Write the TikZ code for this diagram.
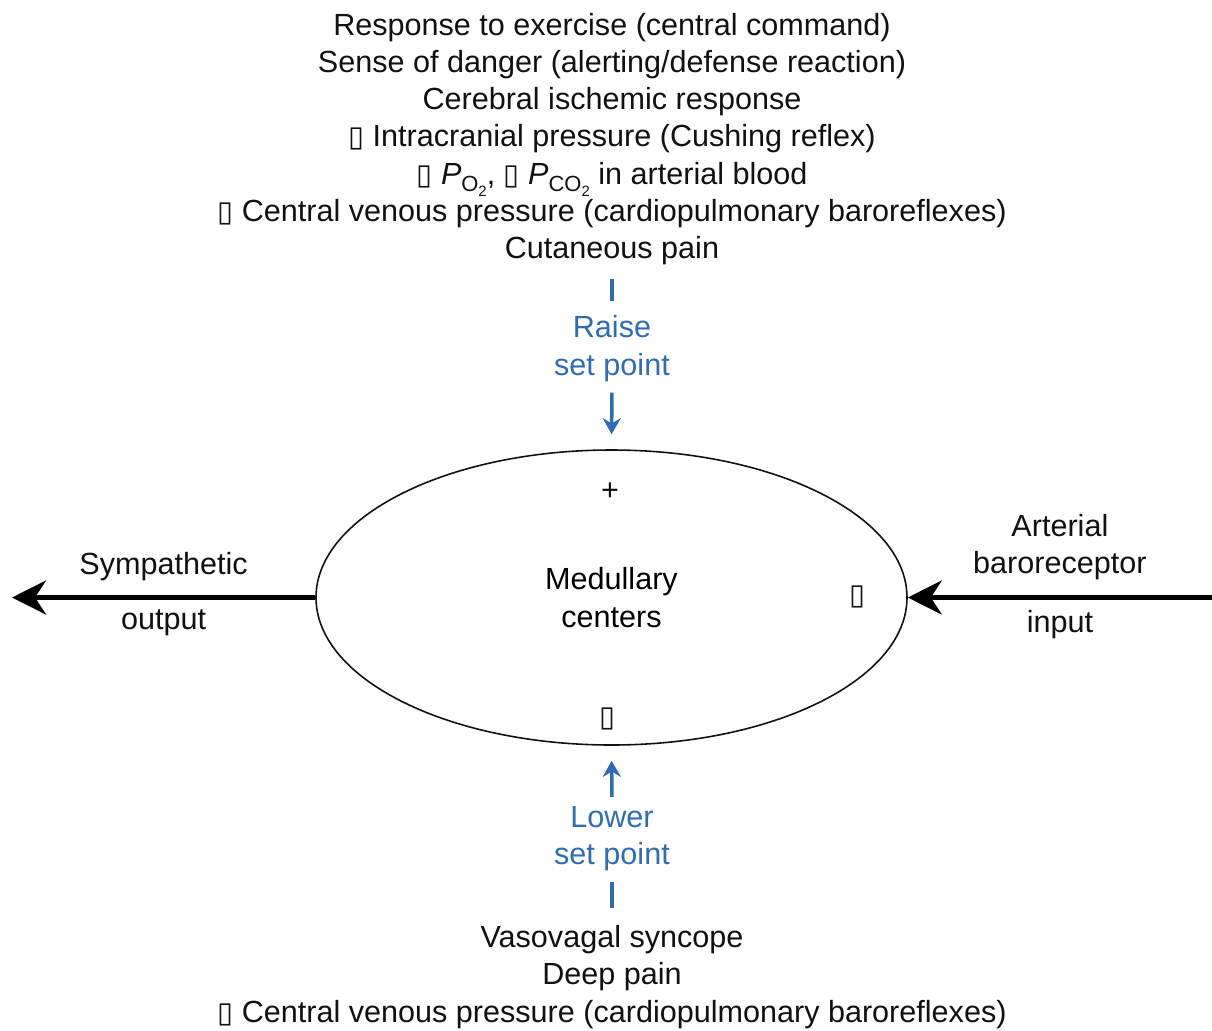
\documentclass[tikz,border=0pt]{standalone}
\usepackage{fontspec}
\setmainfont{Liberation Sans}
\newfontfamily\boxfont{DejaVu Sans}
\usetikzlibrary{positioning,arrows.meta,shapes.geometric}
\definecolor{setblue}{HTML}{2E6DB4}
\definecolor{edgecol}{HTML}{111111}
\newcommand{\bx}{{\boxfont\fontsize{16.5pt}{16.5pt}\selectfont ▯}}
\newcommand{\pgas}[1]{\textit{P}\raisebox{-0.45ex}{\fontsize{12.5pt}{12.5pt}\selectfont #1}}
\newcommand{\two}{\raisebox{-0.4ex}{\fontsize{8.5pt}{8.5pt}\selectfont 2}}

\begin{document}
\begin{tikzpicture}[
  font=\fontsize{17.4pt}{21.2pt}\selectfont,
  txt/.style={align=center, text=edgecol, inner sep=0pt},
  setlbl/.style={txt, text=setblue},
  centre/.style={draw=edgecol, ellipse, line width=0.9pt, minimum width=11.82cm,
                 minimum height=5.9cm, align=center, inner sep=0pt},
  bigarr/.style={-{Stealth[length=6.8mm, width=6.8mm, inset=2.2mm]}, line width=2.8pt, draw=black},
  setarr/.style={-{Stealth[length=3.2mm, width=3.6mm]}, line width=2pt, draw=setblue},
  setbar/.style={line width=2pt, draw=setblue},
]
\useasboundingbox (0,0) rectangle (24.24,-20.6);

% ─── medullary centers (middle) ────────────────────────────────────────────
\node[centre] (med) at (12.23,-11.95) {Medullary\\centers};
\node[txt] (plus) at (12.2,-9.84) {+};
\node[txt] (minusr) at (17.14,-11.94) {\bx};
\node[txt] (minusb) at (12.14,-14.38) {\bx};

% ─── raise set point (top) ─────────────────────────────────────────────────
\node[txt] (raisers) at (12.24,-2.78)
  {Response to exercise (central command)\\
   Sense of danger (alerting/defense reaction)\\
   Cerebral ischemic response\\
   \bx{} Intracranial pressure (Cushing reflex)\\
   \bx{} \pgas{O\two}, \bx{} \pgas{CO\two} in arterial blood\\
   \bx{} Central venous pressure (cardiopulmonary baroreflexes)\\
   Cutaneous pain};
\node[setlbl] (raise) at (12.24,-6.97) {Raise\\set point};
\draw[setbar, shorten <=0.28cm, shorten >=0.28cm] (raisers.south) -- (raise.north);
\draw[setarr, shorten <=0.22cm, shorten >=0.3cm] (raise.south) -- (med.north);

% ─── lower set point (bottom) ──────────────────────────────────────────────
\node[setlbl] (lower) at (12.24,-16.77) {Lower\\set point};
\node[txt] (lowerers) at (12.24,-19.54)
  {Vasovagal syncope\\
   Deep pain\\
   \bx{} Central venous pressure (cardiopulmonary baroreflexes)};
\draw[setarr, shorten <=0.18cm, shorten >=0.3cm] (lower.north) -- (med.south);
\draw[setbar, shorten <=0.22cm, shorten >=0.34cm] (lower.south) -- (lowerers.north);

% ─── sympathetic output / baroreceptor input ───────────────────────────────
\coordinate (outtip) at (0.24,-11.95);
\coordinate (intail) at (24.24,-11.95);
\draw[bigarr] (med.west) -- node[txt, above=0.28cm]{Sympathetic}
  node[txt, below=0.2cm]{output} (outtip);
\draw[bigarr] (intail) -- node[txt, above=0.3cm]{Arterial\\baroreceptor}
  node[txt, below=0.2cm]{input} (med.east);

\end{tikzpicture}
\end{document}
